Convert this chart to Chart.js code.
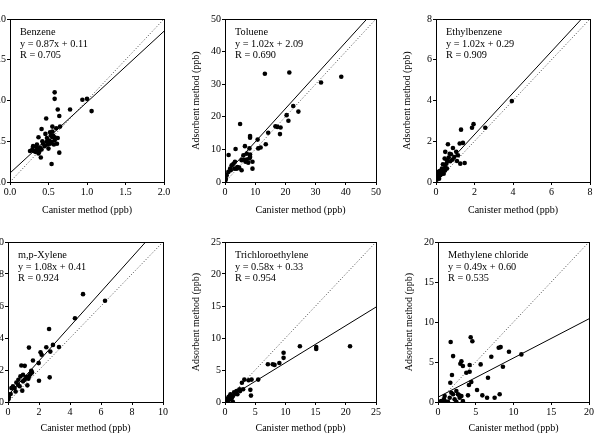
<!DOCTYPE html>
<html>
<head>
  <title>Adsorbent vs canister method</title>
  <script src="https://cdn.jsdelivr.net/npm/chart.js"></script>
  <style>
    body { margin: 0; background: #fff; }
    #wrap { position: relative; width: 597px; height: 433px; overflow: hidden; background: #fff; }
    #wrap canvas { position: absolute; }
  </style>
</head>
<body>
<div id="wrap"></div>
<script>
  // Panel texts and fitted lines
  const compounds = ['Benzene', 'Toluene', 'Ethylbenzene', 'm,p-Xylene', 'Trichloroethylene', 'Methylene chloride'];
  const equations = ['y = 0.87x + 0.11', 'y = 1.02x + 2.09', 'y = 1.02x + 0.29', 'y = 1.08x + 0.41', 'y = 0.58x + 0.33', 'y = 0.49x + 0.60'];
  const rValues = ['R = 0.705', 'R = 0.690', 'R = 0.909', 'R = 0.924', 'R = 0.954', 'R = 0.535'];
  const slopes = [0.87, 1.02, 1.02, 1.08, 0.58, 0.49];
  const intercepts = [0.11, 2.09, 0.29, 0.41, 0.33, 0.60];
  const axisMax = [2, 50, 8, 10, 25, 20];
  const tickStep = [0.5, 10, 2, 2, 5, 5];
  const tickDecimals = [1, 0, 0, 0, 0, 0];

  // Measured pairs (canister, adsorbent) in ppb
  const benzeneX = [0.58, 0.58, 0.94, 1.00, 1.06, 0.78, 0.62, 0.64, 0.47, 0.55, 0.60, 0.65, 0.41, 0.46, 0.52, 0.55, 0.37, 0.48, 0.53, 0.56, 0.58, 0.62, 0.42, 0.51, 0.54, 0.58, 0.61, 0.49, 0.52, 0.35, 0.30, 0.34, 0.39, 0.26, 0.31, 0.36, 0.41, 0.45, 0.37, 0.40, 0.50, 0.64, 0.54, 0.57, 0.55, 0.48, 0.29, 0.33, 0.38, 0.43];
  const benzeneY = [1.10, 1.02, 1.01, 1.02, 0.87, 0.89, 0.89, 0.81, 0.78, 0.68, 0.66, 0.68, 0.65, 0.59, 0.61, 0.62, 0.55, 0.54, 0.57, 0.57, 0.55, 0.54, 0.50, 0.51, 0.49, 0.51, 0.47, 0.46, 0.47, 0.46, 0.44, 0.43, 0.42, 0.38, 0.38, 0.40, 0.40, 0.44, 0.35, 0.30, 0.41, 0.36, 0.22, 0.46, 0.55, 0.49, 0.40, 0.37, 0.37, 0.47];

  const tolueneX = [13.2, 21.3, 31.8, 38.5, 22.6, 24.3, 20.4, 21.0, 16.7, 17.3, 18.4, 18.2, 14.3, 13.5, 10.8, 8.3, 8.3, 5.0, 1.2, 3.5, 6.6, 8.1, 11.0, 11.8, 7.2, 8.3, 6.1, 9.1, 9.1, 5.5, 4.7, 3.9, 2.8, 3.3, 2.2, 1.7, 1.1, 0.55, 0.3, 0.1, 6.1, 7.2, 8.1, 5.5, 6.8, 7.7, 4.1, 1.9, 3.1, 8.3];
  const tolueneY = [33.2, 33.6, 30.5, 32.3, 23.3, 21.6, 20.5, 18.8, 17.1, 16.9, 16.7, 14.7, 15.1, 11.6, 13.0, 14.1, 13.6, 17.8, 8.3, 10.1, 11.0, 10.3, 10.3, 10.6, 8.7, 8.4, 8.2, 6.2, 4.1, 3.6, 4.4, 4.1, 5.6, 6.2, 5.1, 4.1, 3.1, 2.1, 1.0, 0.5, 6.9, 6.9, 7.2, 6.7, 6.2, 5.9, 4.6, 3.6, 4.1, 7.7];

  const ethylbenzeneX = [3.94, 2.56, 1.95, 1.87, 1.30, 0.62, 1.40, 1.23, 0.88, 0.48, 0.78, 1.05, 1.14, 1.26, 1.49, 0.66, 0.95, 0.57, 0.74, 0.45, 0.36, 0.57, 0.31, 0.19, 0.09, 0.26, 0.10, 0.03, 0.40, 0.48, 0.86, 0.71, 0.22, 0.16, 0.33, 0.47, 0.05, 0.54, 1.09];
  const ethylbenzeneY = [3.97, 2.66, 2.84, 2.66, 2.57, 1.85, 1.92, 1.89, 1.67, 1.48, 1.36, 1.48, 1.31, 0.90, 0.93, 1.20, 1.23, 1.07, 1.02, 1.15, 0.87, 0.66, 0.66, 0.54, 0.49, 0.38, 0.25, 0.11, 0.41, 0.74, 1.10, 1.39, 0.33, 0.16, 0.49, 0.57, 0.33, 0.90, 1.03];

  const xyleneX = [4.84, 6.26, 4.32, 2.65, 1.35, 2.47, 2.90, 3.29, 2.73, 2.10, 2.17, 1.61, 1.98, 0.86, 1.08, 2.69, 2.00, 1.50, 1.44, 0.97, 0.80, 1.18, 1.31, 0.67, 0.97, 1.25, 0.92, 0.54, 0.32, 0.49, 0.22, 0.17, 0.06, 0.02, 0.75, 0.43, 1.08, 0.65, 1.55, 1.35];
  const xyleneY = [6.74, 6.33, 5.23, 4.56, 3.40, 3.42, 3.57, 3.44, 3.15, 3.11, 2.95, 2.59, 2.43, 2.28, 2.26, 1.54, 1.33, 1.95, 1.74, 1.70, 1.60, 1.56, 1.45, 1.39, 1.29, 1.04, 0.71, 1.22, 0.98, 0.66, 0.87, 0.50, 0.29, 0.15, 0.98, 0.87, 1.39, 1.08, 1.85, 1.60];

  const tceX = [20.7, 15.1, 15.1, 12.4, 9.7, 9.7, 9.0, 7.9, 8.2, 7.1, 5.5, 4.4, 3.9, 3.2, 4.2, 4.3, 2.8, 3.0, 2.4, 1.9, 1.5, 0.9, 1.3, 0.6, 0.3, 0.1, 1.1, 0.7, 1.3, 0.55, 2.5, 2.05, 1.7, 0.8];
  const tceY = [8.7, 8.6, 8.3, 8.7, 7.7, 6.9, 6.1, 5.9, 5.8, 5.9, 3.5, 3.5, 3.4, 3.5, 1.9, 1.0, 3.0, 2.0, 2.0, 1.7, 1.5, 1.2, 0.9, 0.8, 0.5, 0.3, 0.6, 0.4, 0.05, 0.3, 1.7, 1.2, 1.3, 0.9];

  const mcX = [4.33, 4.55, 1.68, 8.30, 8.04, 9.40, 7.06, 11.04, 2.00, 3.10, 2.96, 3.30, 5.65, 4.19, 8.60, 3.75, 4.19, 1.85, 4.41, 4.10, 1.63, 6.62, 5.17, 3.97, 5.87, 6.50, 7.50, 8.17, 2.43, 2.65, 2.87, 3.10, 2.00, 2.20, 1.55, 1.77, 0.88, 0.79, 0.44, 0.13, 1.10, 1.32, 2.43, 3.30, 2.78, 0.66];
  const mcY = [8.10, 7.60, 7.50, 6.86, 6.78, 6.28, 5.65, 5.95, 5.74, 5.10, 4.78, 4.50, 4.70, 4.62, 4.40, 3.66, 3.78, 3.37, 2.50, 2.12, 2.41, 3.04, 1.50, 0.83, 0.83, 0.54, 0.54, 0.96, 1.37, 0.96, 0.54, 0.75, 0.96, 0.33, 0.54, 1.16, 0.75, 0.33, 0.12, 0.04, 0.04, 0.04, 0.04, 0.12, 0.87, 0.04];

  const seriesX = [benzeneX, tolueneX, ethylbenzeneX, xyleneX, tceX, mcX];
  const seriesY = [benzeneY, tolueneY, ethylbenzeneY, xyleneY, tceY, mcY];

  // plot area of each panel on the page: left, top, width, height
  const boxes = [
    [10, 19, 154, 163], [225, 19, 151, 163], [436, 19, 154, 163],
    [8, 242, 155, 160], [225, 242, 151, 160], [438, 242, 151, 160]
  ];
  const Y_W = 39, T_PAD = 10, R_PAD = 12;

  Chart.defaults.font.family = "'Liberation Serif', 'Times New Roman', serif";
  Chart.defaults.font.size = 10;
  Chart.defaults.color = '#000';

  // frame round the plot area and the labels in its upper left corner
  const panelText = {
    id: 'panelText',
    afterDraw(chart, args, opts) {
      const ctx = chart.ctx, a = chart.chartArea;
      ctx.save();
      ctx.strokeStyle = '#000';
      ctx.lineWidth = 1;
      ctx.strokeRect(Math.round(a.left) + 0.5, Math.round(a.top) + 0.5, Math.round(a.right - a.left), Math.round(a.bottom - a.top));
      ctx.fillStyle = '#000';
      ctx.font = "10.3px 'Liberation Serif', serif";
      ctx.textBaseline = 'middle';
      opts.lines.forEach((t, i) => ctx.fillText(t, a.left + 10, a.top + 13 + i * 11.8));
      ctx.restore();
    }
  };

  const wrap = document.getElementById('wrap');

  compounds.forEach((name, i) => {
    const [left, top, w, h] = boxes[i];
    const xh = i < 3 ? 38 : 36;
    const canvas = document.createElement('canvas');
    canvas.width = Y_W + w + R_PAD;
    canvas.height = T_PAD + h + xh;
    canvas.style.left = (left - Y_W) + 'px';
    canvas.style.top = (top - T_PAD) + 'px';
    wrap.appendChild(canvas);

    const max = axisMax[i];
    const points = seriesX[i].map((x, k) => ({ x: x, y: seriesY[i][k] }));
    const fit = [{ x: 0, y: intercepts[i] }, { x: max, y: slopes[i] * max + intercepts[i] }];
    const oneToOne = [{ x: 0, y: 0 }, { x: max, y: max }];

    const axis = (fitSize) => ({
      type: 'linear',
      min: 0,
      max: max,
      grid: { display: true, drawOnChartArea: false, drawTicks: true, tickLength: 3, color: '#000', lineWidth: 1 },
      border: { display: false },
      ticks: {
        stepSize: tickStep[i],
        padding: 1,
        color: '#000',
        maxRotation: 0,
        callback: v => Number(v).toFixed(tickDecimals[i])
      },
      afterFit: fitSize
    });

    const xAxis = axis(s => { s.height = xh; });
    xAxis.title = { display: true, text: 'Canister method (ppb)', padding: { top: 4, bottom: 4 } };
    const yAxis = axis(s => { s.width = Y_W; });
    yAxis.title = { display: true, text: 'Adsorbent method (ppb)', padding: { top: 4, bottom: 4 } };

    new Chart(canvas.getContext('2d'), {
      type: 'scatter',
      data: {
        datasets: [{
          data: points,
          backgroundColor: '#000',
          borderWidth: 0,
          pointRadius: 2.3,
          order: 0
        }, {
          type: 'line',
          data: fit,
          borderColor: '#000',
          borderWidth: 1,
          pointRadius: 0,
          order: 1
        }, {
          type: 'line',
          data: oneToOne,
          borderColor: '#444',
          borderWidth: 1,
          borderDash: [1, 2],
          pointRadius: 0,
          order: 2
        }]
      },
      options: {
        responsive: false,
        animation: false,
        layout: { padding: { top: T_PAD, right: R_PAD, left: 0, bottom: 0 } },
        scales: { x: xAxis, y: yAxis },
        plugins: {
          legend: { display: false },
          tooltip: { enabled: false },
          panelText: { lines: [name, equations[i], rValues[i]] }
        }
      },
      plugins: [panelText]
    });
  });
</script>
</body>
</html>
